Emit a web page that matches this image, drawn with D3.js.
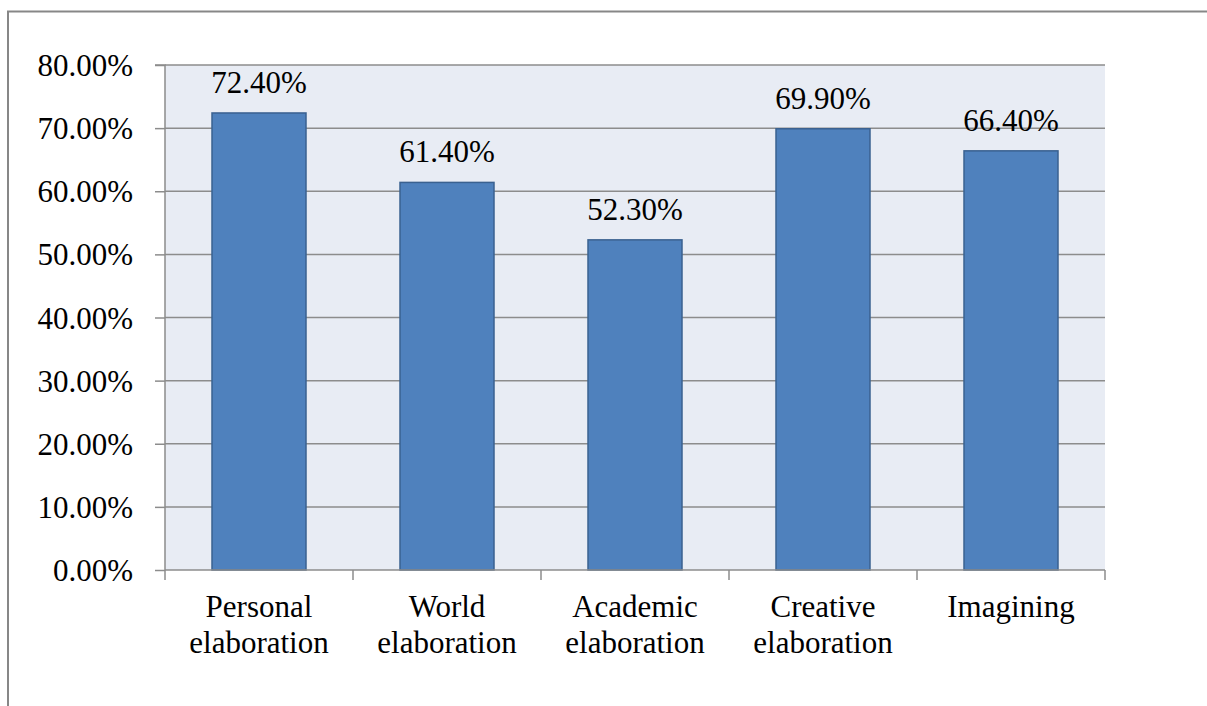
<!DOCTYPE html>
<html>
<head>
<meta charset="utf-8">
<script src="https://cdn.jsdelivr.net/npm/d3@7"></script>
<style>
  html, body { margin: 0; padding: 0; background: #fff; }
  svg { display: block; }
  text { font-family: "Liberation Serif", "Times New Roman", serif; fill: #000; }
</style>
</head>
<body>
<svg id="chart" width="1207" height="706"></svg>
<script>
// Share of responses per elaboration type
const categories = [
  ["Personal", "elaboration"],
  ["World", "elaboration"],
  ["Academic", "elaboration"],
  ["Creative", "elaboration"],
  ["Imagining"]
];
const values = [72.4, 61.4, 52.3, 69.9, 66.4];
const yTicks = [0, 10, 20, 30, 40, 50, 60, 70, 80];

const svg = d3.select("#chart");
const W = 1207, H = 706;
const plot = { left: 165, right: 1105, top: 65, bottom: 570 };
const fontSize = 31;
const serif = "'Liberation Serif', 'Times New Roman', serif";

// Outer frame (top and left edges)
svg.append("path")
  .attr("d", `M8,${H} L8,11.5 L${W},11.5`)
  .attr("fill", "none")
  .attr("stroke", "#878787")
  .attr("stroke-width", 2);

const keys = categories.map((c, i) => i);
const x = d3.scaleBand().domain(keys).range([plot.left, plot.right]).paddingInner(0.5).paddingOuter(0.25);
const y = d3.scaleLinear().domain([0, 80]).range([plot.bottom, plot.top]);

// Plot background
svg.append("rect")
  .attr("x", plot.left).attr("y", plot.top)
  .attr("width", plot.right - plot.left).attr("height", plot.bottom - plot.top)
  .attr("fill", "#E8ECF4");

// Horizontal gridlines
svg.append("g").selectAll("line").data(yTicks.filter(t => t > 0)).join("line")
  .attr("x1", plot.left).attr("x2", plot.right)
  .attr("y1", d => y(d)).attr("y2", d => y(d))
  .attr("stroke", "#8C8C8C").attr("stroke-width", 1.5);

// Bars
svg.append("g").selectAll("rect").data(values).join("rect")
  .attr("x", (d, i) => x(i))
  .attr("y", d => y(d))
  .attr("width", x.bandwidth())
  .attr("height", d => y(0) - y(d))
  .attr("fill", "#4F81BD")
  .attr("stroke", "#3A6190")
  .attr("stroke-width", 1.5);

// Value labels above bars
svg.append("g").selectAll("text").data(values).join("text")
  .attr("x", (d, i) => x(i) + x.bandwidth() / 2)
  .attr("y", d => y(d) - 20)
  .attr("text-anchor", "middle")
  .attr("font-family", serif)
  .attr("font-size", fontSize)
  .text(d => d.toFixed(2) + "%");

// Y axis
const yAxis = d3.axisLeft(y)
  .tickValues(yTicks)
  .tickSize(10)
  .tickPadding(22)
  .tickFormat(d => d.toFixed(2) + "%");
const gy = svg.append("g").attr("transform", `translate(${plot.left},0)`).call(yAxis);
gy.attr("font-family", serif).attr("font-size", fontSize);
gy.select(".domain").attr("stroke", "#8C8C8C").attr("stroke-width", 1.5).attr("d", `M-10,${plot.top}H0V${plot.bottom}`);
gy.selectAll(".tick line").attr("stroke", "#8C8C8C").attr("stroke-width", 1.5);
gy.selectAll(".tick text")
  .attr("fill", "#000")
  .attr("dy", "0.34em");

// X axis with boundary ticks between categories
const xAxisLine = svg.append("g");
xAxisLine.append("line")
  .attr("x1", plot.left).attr("x2", plot.right)
  .attr("y1", plot.bottom).attr("y2", plot.bottom)
  .attr("stroke", "#8C8C8C").attr("stroke-width", 1.5);
const boundaries = d3.range(categories.length + 1).map(i => plot.left + (plot.right - plot.left) * i / categories.length);
xAxisLine.selectAll("line.tick").data(boundaries).join("line")
  .attr("class", "tick")
  .attr("x1", d => d).attr("x2", d => d)
  .attr("y1", plot.bottom).attr("y2", plot.bottom + 10)
  .attr("stroke", "#8C8C8C").attr("stroke-width", 1.5);

// Category labels
const lab = svg.append("g").selectAll("text").data(categories).join("text")
  .attr("x", (d, i) => x(i) + x.bandwidth() / 2)
  .attr("y", 617)
  .attr("text-anchor", "middle")
  .attr("font-family", serif)
  .attr("font-size", fontSize);
lab.selectAll("tspan").data(d => d).join("tspan")
  .attr("x", function() { return this.parentNode.getAttribute("x"); })
  .attr("dy", (d, i) => i === 0 ? 0 : 36)
  .text(d => d);
</script>
</body>
</html>
